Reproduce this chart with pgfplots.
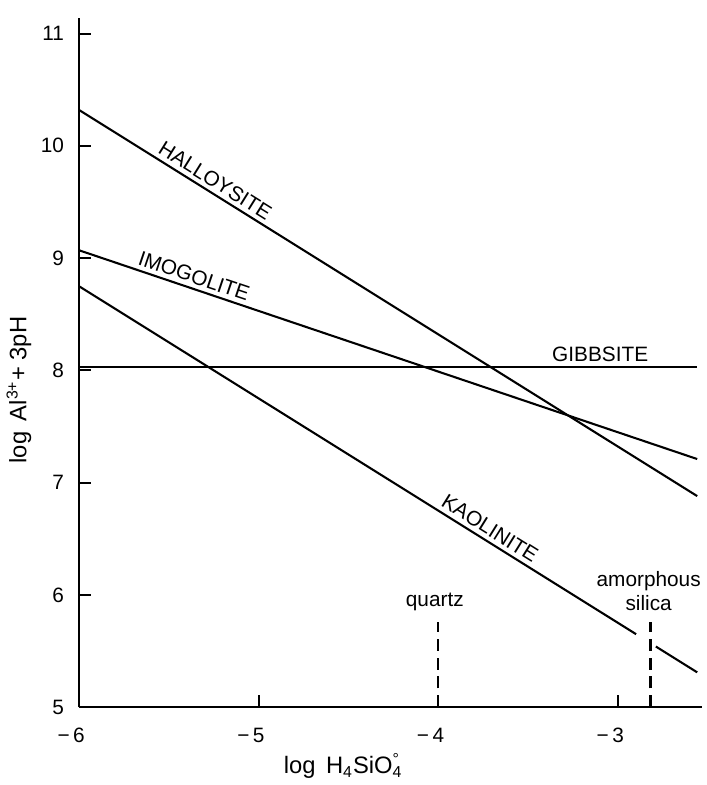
\documentclass[border=0pt]{standalone}
\usepackage{fontspec}
\setmainfont{Liberation Sans}
\usepackage{pgfplots}
\pgfplotsset{compat=1.18}
\begin{document}
\begin{tikzpicture}
\begin{axis}[
  scale only axis, width=314.5pt, height=348pt,
  at={(0,0)}, anchor=south west,
  xmin=-6, xmax=-2.534, ymin=5, ymax=11.14,
  axis lines=left, axis line style={-, line width=1.1pt},
  xtick={-6,-5,-4,-3}, xticklabels={\llap{−\,}6,\llap{−\,}5,\llap{−\,}4,\llap{−\,}3},
  ytick={5,6,7,8,9,10,11},
  tick align=inside, major tick length=6pt,
  tick style={black, line width=1pt},
  /pgf/number format/assume math mode=true,
  ticklabel style={font=\fontsize{10.5}{12}\selectfont},
  xticklabel style={yshift=-7pt},
  yticklabel style={xshift=-4pt},
  xlabel={log\, H\textsubscript{4}SiO\rlap{\textsuperscript{°}}\textsubscript{4}},
  ylabel={log\, Al\textsuperscript{3+}+ 3pH},
  label style={font=\fontsize{12}{14}\selectfont},
  xlabel style={at={(axis cs:-4.53,5)}, anchor=north, yshift=-20pt},
  ylabel style={at={(ticklabel cs:0.46)}, yshift=-2pt},
  clip=false,
]
% Gibbsite
\addplot[black, line width=1.05pt] coordinates {(-6,8.03) (-2.56,8.03)};
\node[anchor=south, font=\fontsize{10.5}{12}\selectfont, inner sep=2.5pt] at (axis cs:-3.10,8.03) {GIBBSITE};
% Halloysite
\addplot[black, line width=1.05pt] coordinates {(-6,10.32) (-2.56,6.88)}
  node[pos=0.21, sloped, above, font=\fontsize{10.5}{12}\selectfont, inner sep=2pt] {HALLOYSITE};
% Imogolite
\addplot[black, line width=1.05pt] coordinates {(-6,9.07) (-2.56,7.21)}
  node[pos=0.18, sloped, above, font=\fontsize{10.5}{12}\selectfont, inner sep=2pt] {IMOGOLITE};
% Kaolinite (broken at amorphous silica line)
\addplot[black, line width=1.05pt] coordinates {(-6,8.75) (-2.90,5.65)}
  node[pos=0.726, sloped, above, font=\fontsize{10.5}{12}\selectfont, inner sep=2pt] {KAOLINITE};
\addplot[black, line width=1.05pt] coordinates {(-2.79,5.54) (-2.56,5.31)};
% Solubility lines
\addplot[black, line width=1.05pt, dash pattern=on 6pt off 3.5pt] coordinates {(-4,5) (-4,5.76)};
\addplot[black, line width=1.05pt, dash pattern=on 6pt off 3.5pt] coordinates {(-2.82,5) (-2.82,5.76)};
\node[anchor=south, font=\fontsize{10.5}{12}\selectfont, inner sep=3pt] at (axis cs:-4.02,5.80) {quartz};
\node[anchor=south, align=center, font=\fontsize{10.5}{12.5}\selectfont, inner sep=3pt] at (axis cs:-2.83,5.80) {amorphous\\silica};
\end{axis}
\path (-39pt,-35.5pt) rectangle (314.5pt,357pt);
\end{tikzpicture}
\end{document}
